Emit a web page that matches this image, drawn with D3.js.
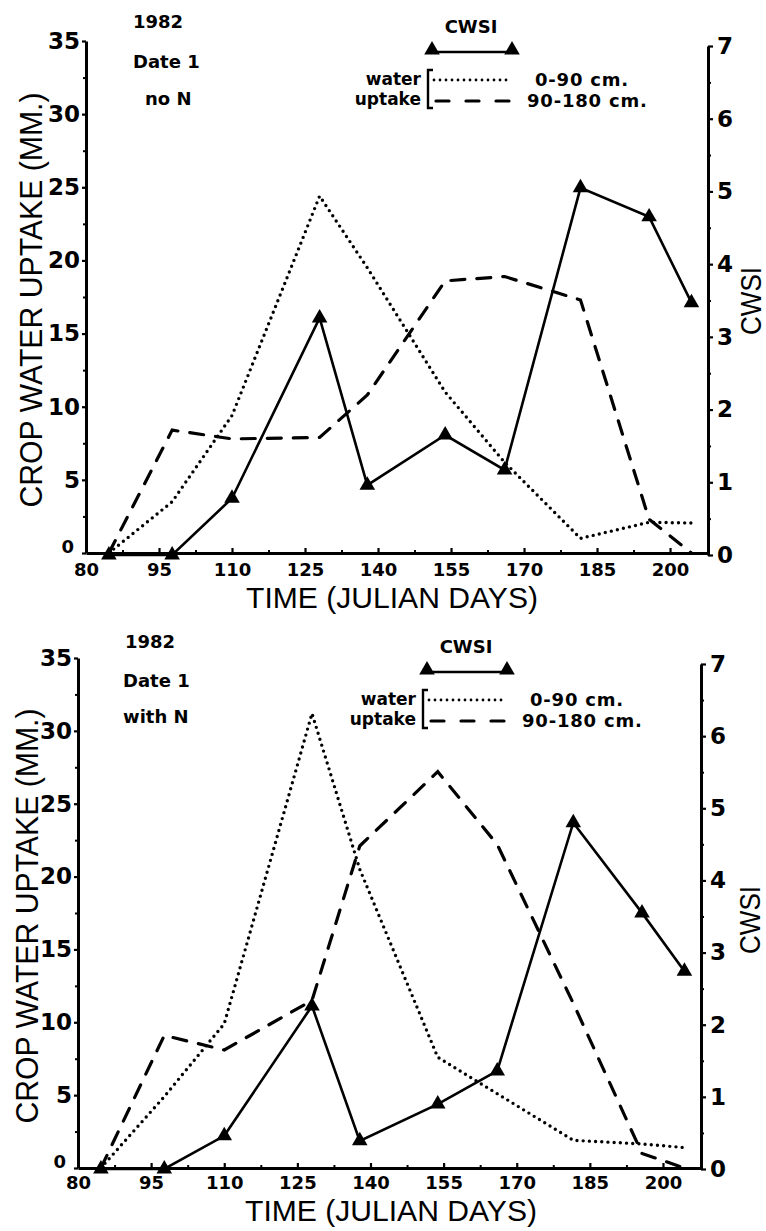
<!DOCTYPE html>
<html><head><meta charset="utf-8">
<script src="https://cdn.jsdelivr.net/npm/d3@7"></script>
<style>body{margin:0;background:#fff} svg{display:block}</style>
</head><body>
<svg id="c" width="766" height="1231"></svg>
<script>
// ---------- data ----------
const days = [84.7, 97.7, 110, 128, 137.8, 153.8, 166, 181.6, 195.7, 204.4];
const xTicks = [80, 95, 110, 125, 140, 155, 170, 185, 200];
const yTicksMM = [0, 5, 10, 15, 20, 25, 30, 35];
const yTicksCWSI = [0, 1, 2, 3, 4, 5, 6, 7];

const cwsiNoN      = [0, 0, 0.78, 3.26, 0.96, 1.65, 1.17, 5.05, 4.65, 3.47];
const shallowNoN   = [0, 3.5, 9.4, 24.4, 19.5, 11.0, 6.2, 1.0, 2.1, 2.05];
const deepNoN      = [0, 8.4, 7.8, 7.9, 10.8, 18.6, 18.9, 17.3, 2.3, 0];

const cwsiWithN    = [0, 0, 0.46, 2.26, 0.39, 0.90, 1.36, 4.80, 3.55, 2.74];
const shallowWithN = [0, 4.9, 9.9, 31.2, 20.5, 7.6, 5.1, 1.9, 1.65, 1.4];
const deepWithN    = [0, 9.1, 8.1, 11.5, 22.1, 27.2, 22.2, 11.3, 1.0, 0];

const labelsNoN   = ["1982", "Date 1", "no N"];
const labelsWithN = ["1982", "Date 1", "with N"];
const legendTitle = "CWSI";
const legendGroup = ["water", "uptake"];
const legendDepths = ["0-90 cm.", "90-180 cm."];
const yTitle = "CROP WATER UPTAKE (MM.)";
const xTitle = "TIME (JULIAN DAYS)";
const y2Title = "CWSI";

// ---------- drawing ----------
const svg = d3.select("#c");
const BOLD = "'DejaVu Sans', sans-serif";
const PLAIN = "'Liberation Sans', Arial, sans-serif";

function styleAxis(a, size) {
  a.attr("font-family", BOLD).attr("font-size", size).attr("font-weight", "bold");
  a.select(".domain").attr("stroke-width", 3).attr("stroke", "#000");
  a.selectAll(".tick line").attr("stroke-width", 2.2).attr("stroke", "#000");
  a.selectAll(".tick text").attr("fill", "#000");
}

function panel(cfg, cwsi, shallow, deep, labels) {
  const g = svg.append("g");
  const x = d3.scaleLinear().domain([80, 207.8]).range([cfg.left, cfg.right]);
  const y = d3.scaleLinear().domain([0, 35]).range([cfg.base, cfg.top]);
  const yc = d3.scaleLinear().domain([0, 7]).range([cfg.cBase, cfg.cTop]);

  // minor ticks
  const xMinor = xTicks.map(d => d + 7.5).filter(d => d < 207);
  const yMinor = yTicksMM.slice(0, -1).map(d => d + 2.5);
  const cMinor = yTicksCWSI.slice(0, -1).map(d => d + 0.5);

  const xm = g.append("g").attr("transform", `translate(0,${cfg.base})`)
    .call(d3.axisBottom(x).tickValues(xMinor).tickSize(-3).tickFormat(""));
  xm.select(".domain").remove(); xm.selectAll("line").attr("stroke-width", 2);
  const ym = g.append("g").attr("transform", `translate(${cfg.left},0)`)
    .call(d3.axisLeft(y).tickValues(yMinor).tickSize(3).tickFormat(""));
  ym.select(".domain").remove(); ym.selectAll("line").attr("stroke-width", 2);
  const cm = g.append("g").attr("transform", `translate(${cfg.right},0)`)
    .call(d3.axisRight(yc).tickValues(cMinor).tickSize(3).tickFormat(""));
  cm.select(".domain").remove(); cm.selectAll("line").attr("stroke-width", 2);

  // x axis
  const xa = g.append("g").attr("transform", `translate(0,${cfg.base})`)
    .call(d3.axisBottom(x).tickValues(xTicks).tickSize(-5).tickSizeOuter(0).tickPadding(cfg.xPad).tickFormat(d3.format("d")));
  styleAxis(xa, 18);

  // left axis
  const ya = g.append("g").attr("transform", `translate(${cfg.left},0)`)
    .call(d3.axisLeft(y).tickValues(yTicksMM).tickSize(4).tickSizeOuter(0).tickPadding(2).tickFormat(d3.format("d")));
  styleAxis(ya, 23);
  ya.selectAll(".tick").filter(d => d === 0).select("text")
    .attr("font-size", 18).attr("x", -12).attr("dy", "-0.05em");

  // right axis
  const ca = g.append("g").attr("transform", `translate(${cfg.right},0)`)
    .call(d3.axisRight(yc).tickValues(yTicksCWSI).tickSize(5).tickSizeOuter(0).tickPadding(4).tickFormat(d3.format("d")));
  styleAxis(ca, 23);

  // lines
  const line = d3.line().x(d => x(d[0])).y(d => d[2](d[1]));
  const pts = (vals, sc) => days.map((d, i) => [d, vals[i], sc]);

  g.append("path").attr("d", line(pts(shallow, y))).attr("fill", "none")
    .attr("stroke", "#000").attr("stroke-width", 3.4).attr("stroke-linecap", "round")
    .attr("stroke-dasharray", "0 6.2");
  g.append("path").attr("d", line(pts(deep, y))).attr("fill", "none")
    .attr("stroke", "#000").attr("stroke-width", 3.2).attr("stroke-linecap", "round")
    .attr("stroke-dasharray", "14 12");
  g.append("path").attr("d", line(pts(cwsi, yc))).attr("fill", "none")
    .attr("stroke", "#000").attr("stroke-width", 2.6);
  const tri = d3.symbol().type(d3.symbolTriangle).size(105);
  g.selectAll("path.tri").data(pts(cwsi, yc)).join("path").attr("class", "tri")
    .attr("d", tri).attr("transform", d => `translate(${x(d[0])},${yc(d[1])})`).attr("fill", "#000");

  // titles
  g.append("text").attr("transform", `translate(${cfg.yTitleX},${cfg.yTitleY}) rotate(-90)`)
    .attr("text-anchor", "middle").attr("font-family", PLAIN).attr("font-size", 32)
    .attr("textLength", 415).attr("lengthAdjust", "spacingAndGlyphs").text(yTitle);
  g.append("text").attr("x", cfg.xTitleX).attr("y", cfg.xTitleY)
    .attr("text-anchor", "middle").attr("font-family", PLAIN).attr("font-size", 29)
    .attr("textLength", 292).attr("lengthAdjust", "spacingAndGlyphs").text(xTitle);
  g.append("text").attr("transform", `translate(${cfg.y2TitleX},${cfg.y2TitleY}) rotate(-90)`)
    .attr("text-anchor", "middle").attr("font-family", PLAIN).attr("font-size", 29)
    .attr("textLength", 68).attr("lengthAdjust", "spacingAndGlyphs").text(y2Title);

  // corner labels
  labels.forEach((t, i) => {
    g.append("text").attr("x", cfg.lab[i][0]).attr("y", cfg.lab[i][1])
      .attr("font-family", BOLD).attr("font-weight", "bold").attr("font-size", 18).text(t);
  });

  // legend
  const L = g.append("g").attr("transform", `translate(${cfg.legDx},${cfg.legDy})`);
  L.append("text").attr("x", 471).attr("y", 33).attr("text-anchor", "middle")
    .attr("font-family", BOLD).attr("font-weight", "bold").attr("font-size", 18).text(legendTitle);
  L.append("line").attr("x1", 432).attr("x2", 512).attr("y1", 52).attr("y2", 52)
    .attr("stroke", "#000").attr("stroke-width", 2.6);
  [432, 512].forEach(px => L.append("path").attr("d", tri).attr("transform", `translate(${px},50)`));
  L.append("path").attr("d", "M433,70 L428,70 L428,108 L433,108").attr("fill", "none")
    .attr("stroke", "#000").attr("stroke-width", 2.4);
  legendGroup.forEach((t, i) => {
    L.append("text").attr("x", 421).attr("y", 85 + i * 20).attr("text-anchor", "end")
      .attr("font-family", BOLD).attr("font-weight", "bold").attr("font-size", 17).text(t);
  });
  L.append("line").attr("x1", 434).attr("x2", 512).attr("y1", 80).attr("y2", 80)
    .attr("stroke", "#000").attr("stroke-width", 2.8).attr("stroke-linecap", "round")
    .attr("stroke-dasharray", "0 6");
  L.append("line").attr("x1", 436).attr("x2", 512).attr("y1", 101).attr("y2", 101)
    .attr("stroke", "#000").attr("stroke-width", 3.2).attr("stroke-linecap", "round")
    .attr("stroke-dasharray", "13 17");
  const dx = [535, 527];
  legendDepths.forEach((t, i) => {
    L.append("text").attr("x", dx[i]).attr("y", 86 + i * 21)
      .attr("font-family", BOLD).attr("font-weight", "bold").attr("font-size", 18)
      .attr("letter-spacing", 0.8).text(t);
  });
}

panel({left: 86, right: 708, base: 553, top: 41, cBase: 555, cTop: 46, xPad: 10,
       yTitleX: 42, yTitleY: 300, xTitleX: 392, xTitleY: 608, y2TitleX: 761, y2TitleY: 301,
       lab: [[133, 28], [133, 68], [145, 105]], legDx: 0, legDy: 0},
      cwsiNoN, shallowNoN, deepNoN, labelsNoN);

panel({left: 78, right: 701, base: 1168, top: 658, cBase: 1169, cTop: 664, xPad: 8,
       yTitleX: 38, yTitleY: 916, xTitleX: 391, xTitleY: 1221, y2TitleX: 760, y2TitleY: 920,
       lab: [[125, 648], [123, 687], [123, 723]], legDx: -5, legDy: 620},
      cwsiWithN, shallowWithN, deepWithN, labelsWithN);
</script>
</body></html>
